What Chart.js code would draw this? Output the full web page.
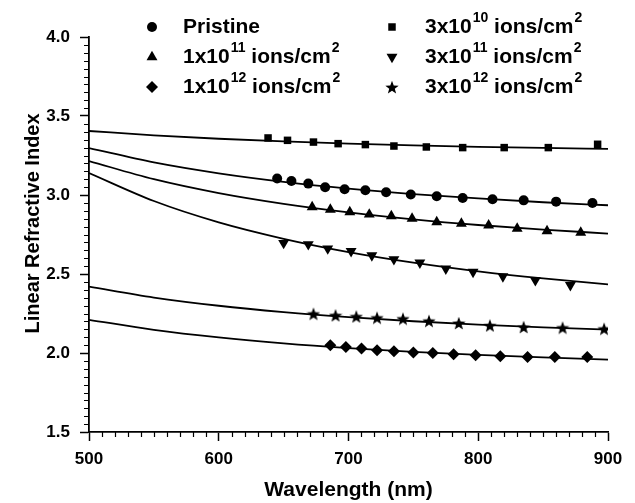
<!DOCTYPE html>
<html lang="en">
<head>
<meta charset="UTF-8">
<title>Linear Refractive Index vs Wavelength</title>
<script src="https://cdn.jsdelivr.net/npm/chart.js"></script>
<style>
  html, body { margin: 0; padding: 0; background: #fff; }
</style>
</head>
<body>
<canvas id="chart" width="635" height="503"></canvas>
<script>
  // fitted curves
  const curveWl = [500, 550, 600, 650, 700, 750, 800, 850, 900];
  const fit3e10 = [3.405, 3.378, 3.356, 3.339, 3.325, 3.314, 3.305, 3.298, 3.292];
  const fitPristine = [3.297, 3.206, 3.137, 3.083, 3.040, 3.006, 2.978, 2.954, 2.935];
  const fit1e11 = [3.215, 3.100, 3.012, 2.944, 2.890, 2.846, 2.810, 2.781, 2.756];
  const fit3e11 = [3.139, 2.962, 2.827, 2.723, 2.639, 2.572, 2.517, 2.472, 2.434];
  const fit3e12 = [2.420, 2.351, 2.299, 2.259, 2.227, 2.201, 2.180, 2.162, 2.148];
  const fit1e12 = [2.210, 2.147, 2.099, 2.061, 2.031, 2.007, 1.988, 1.972, 1.958];

  // measured points
  const wl3e10 = [638, 653, 673, 692, 713, 735, 760, 788, 820, 854, 892];
  const n3e10 = [3.361, 3.346, 3.335, 3.325, 3.319, 3.310, 3.304, 3.300, 3.300, 3.300, 3.321];
  const wlPristine = [645, 656, 669, 682, 697, 713, 729, 748, 768, 788, 811, 835, 860, 888];
  const nPristine = [3.104, 3.089, 3.072, 3.049, 3.036, 3.030, 3.017, 3.003, 2.992, 2.981, 2.973, 2.966, 2.958, 2.949];
  const wl1e11 = [672, 686, 701, 716, 733, 749, 768, 787, 808, 830, 853, 879];
  const n1e11 = [2.924, 2.908, 2.892, 2.877, 2.867, 2.851, 2.829, 2.819, 2.808, 2.787, 2.772, 2.762];
  const wl3e11 = [650, 669, 684, 702, 718, 735, 755, 775, 796, 819, 844, 871];
  const n3e11 = [2.696, 2.688, 2.661, 2.644, 2.618, 2.593, 2.572, 2.534, 2.513, 2.485, 2.460, 2.429];
  const wl3e12 = [673, 690, 706, 722, 742, 762, 785, 809, 835, 865, 897];
  const n3e12 = [2.249, 2.239, 2.232, 2.224, 2.218, 2.204, 2.190, 2.175, 2.165, 2.161, 2.154];
  const wl1e12 = [686, 698, 710, 722, 735, 750, 765, 781, 798, 817, 838, 859, 884];
  const n1e12 = [2.049, 2.038, 2.028, 2.017, 2.011, 2.003, 2.000, 1.992, 1.985, 1.979, 1.975, 1.975, 1.975];

  const xTicks = [500, 600, 700, 800, 900];
  const yTicks = [1.5, 2.0, 2.5, 3.0, 3.5, 4.0];
  const yTitle = 'Linear Refractive Index';

  const FONT = '"Liberation Sans", Arial, sans-serif';

  // filled star, chart.js only has the stroked one
  function makeStar(size) {
    const c = document.createElement('canvas');
    c.width = size; c.height = size;
    const g = c.getContext('2d');
    const cx = size / 2, cy = size / 2 + 0.8, R = size / 2, r = R * 0.42;
    g.beginPath();
    for (let i = 0; i < 10; i++) {
      const rad = i % 2 ? r : R;
      const a = -Math.PI / 2 + i * Math.PI / 5;
      g.lineTo(cx + rad * Math.cos(a), cy + rad * Math.sin(a));
    }
    g.closePath();
    g.fillStyle = '#000';
    g.fill();
    return c;
  }
  const starImg = makeStar(14);

  const series = [
    { style: 'circle', radius: 5, rotation: 0, wl: wlPristine, n: nPristine, fit: fitPristine },
    { style: 'rect', radius: 5.3, rotation: 0, wl: wl3e10, n: n3e10, fit: fit3e10 },
    { style: 'triangle', radius: 6.3, rotation: 0, wl: wl1e11, n: n1e11, fit: fit1e11 },
    { style: 'triangle', radius: 6.3, rotation: 180, wl: wl3e11, n: n3e11, fit: fit3e11 },
    { style: 'rectRot', radius: 6, rotation: 0, wl: wl1e12, n: n1e12, fit: fit1e12 },
    { style: starImg, radius: 7, rotation: 0, wl: wl3e12, n: n3e12, fit: fit3e12 }
  ];

  // legend: series index, base text, exponent, column, row
  const legendRows = [
    { s: 0, text: 'Pristine', exp: null, col: 0, row: 0 },
    { s: 1, text: '3x10', exp: '10', col: 1, row: 0 },
    { s: 2, text: '1x10', exp: '11', col: 0, row: 1 },
    { s: 3, text: '3x10', exp: '11', col: 1, row: 1 },
    { s: 4, text: '1x10', exp: '12', col: 0, row: 2 },
    { s: 5, text: '3x10', exp: '12', col: 1, row: 2 }
  ];

  const datasets = [];
  series.forEach(s => {
    datasets.push({
      type: 'line',
      data: curveWl.map((x, i) => ({ x: x, y: s.fit[i] })),
      borderColor: '#000',
      borderWidth: 1.8,
      pointRadius: 0,
      fill: false,
      cubicInterpolationMode: 'monotone'
    });
    datasets.push({
      type: 'scatter',
      data: s.wl.map((x, i) => ({ x: x, y: s.n[i] })),
      pointStyle: s.style,
      pointRadius: s.radius,
      pointRotation: s.rotation,
      backgroundColor: '#000',
      borderColor: '#000',
      borderWidth: 0,
      showLine: false
    });
  });

  const minorTicks = {
    id: 'minorTicks',
    afterDraw(chart) {
      const ctx = chart.ctx;
      const xs = chart.scales.x, ys = chart.scales.y;
      ctx.save();
      ctx.strokeStyle = '#000';
      ctx.lineWidth = 1.2;
      ctx.beginPath();
      for (let v = 500; v <= 900; v += 10) {
        if (v % 100 === 0) continue;
        const px = Math.round(xs.getPixelForValue(v)) + 0.5;
        ctx.moveTo(px, xs.top);
        ctx.lineTo(px, xs.top + 5);
      }
      for (let i = 30; i <= 80; i++) {
        if (i % 10 === 0) continue;
        const py = Math.round(ys.getPixelForValue(i * 0.05)) + 0.5;
        ctx.moveTo(ys.right, py);
        ctx.lineTo(ys.right - 5, py);
      }
      ctx.stroke();

      // y title sits a bit above the middle of the axis in the original
      ctx.fillStyle = '#000';
      ctx.font = 'bold 20px ' + FONT;
      ctx.textAlign = 'center';
      ctx.textBaseline = 'middle';
      ctx.translate(33, ys.getPixelForValue(2.82));
      ctx.rotate(-Math.PI / 2);
      ctx.fillText(yTitle, 0, 0);
      ctx.restore();
    }
  };

  const legendPlugin = {
    id: 'customLegend',
    afterDraw(chart) {
      const ctx = chart.ctx;
      const colSym = [152, 392], colText = [183, 425];
      const rowY = [27, 57, 87];
      ctx.save();
      ctx.fillStyle = '#000';
      ctx.textBaseline = 'middle';
      legendRows.forEach(e => {
        const s = series[e.s];
        const y = rowY[e.row];
        Chart.helpers.drawPoint(ctx, {
          pointStyle: s.style, radius: s.radius, rotation: s.rotation, borderWidth: 0
        }, colSym[e.col], y);
        let x = colText[e.col];
        ctx.font = 'bold 21px ' + FONT;
        ctx.fillText(e.text, x, y);
        x += ctx.measureText(e.text).width;
        if (e.exp) {
          ctx.font = 'bold 14px ' + FONT;
          ctx.fillText(e.exp, x + 1, y - 9);
          x += ctx.measureText(e.exp).width + 1;
          ctx.font = 'bold 21px ' + FONT;
          ctx.fillText(' ions/cm', x, y);
          x += ctx.measureText(' ions/cm').width;
          ctx.font = 'bold 14px ' + FONT;
          ctx.fillText('2', x + 1, y - 9);
        }
      });
      ctx.restore();
    }
  };

  new Chart(document.getElementById('chart'), {
    type: 'scatter',
    data: { datasets: datasets },
    options: {
      responsive: false,
      devicePixelRatio: 1,
      animation: false,
      layout: { padding: { left: 0, top: 37, right: 27, bottom: 0 } },
      plugins: { legend: { display: false }, tooltip: { enabled: false } },
      scales: {
        x: {
          type: 'linear', min: 500, max: 900,
          afterFit(scale) { scale.height = 71; },
          afterBuildTicks(scale) { scale.ticks = xTicks.map(v => ({ value: v })); },
          border: { display: true, color: '#000', width: 1.8 },
          grid: { display: true, drawOnChartArea: false, drawTicks: true, tickLength: 9, tickColor: '#000', tickWidth: 1.5 },
          ticks: { color: '#000', padding: 8, font: { family: FONT, size: 17, weight: 'bold' } },
          title: { display: true, text: 'Wavelength (nm)', color: '#000', padding: { top: 0, bottom: 0 },
                   font: { family: FONT, size: 21, weight: 'bold' } }
        },
        y: {
          type: 'linear', min: 1.5, max: 4.0,
          afterFit(scale) { scale.width = 89; },
          afterBuildTicks(scale) { scale.ticks = yTicks.map(v => ({ value: v })); },
          border: { display: true, color: '#000', width: 1.8 },
          grid: { display: true, drawOnChartArea: false, drawTicks: true, tickLength: 9, tickColor: '#000', tickWidth: 1.5 },
          ticks: { color: '#000', padding: 10, font: { family: FONT, size: 17, weight: 'bold' },
                   callback: v => v.toFixed(1) },
          title: { display: false }
        }
      }
    },
    plugins: [minorTicks, legendPlugin]
  });
</script>
</body>
</html>
